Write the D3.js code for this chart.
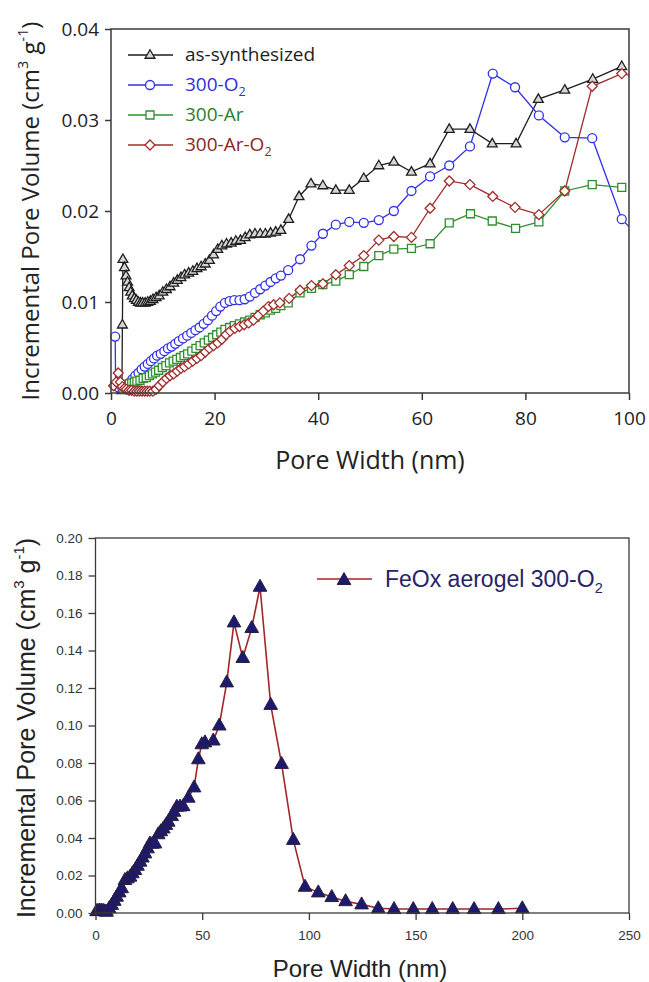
<!DOCTYPE html>
<html><head><meta charset="utf-8">
<script src="https://cdn.jsdelivr.net/npm/d3@7"></script>
<style>body{margin:0;background:#fff}svg{display:block}</style>
</head><body>
<svg id="c" width="649" height="982"></svg>
<script>
// ---------- DATA (top panel) ----------
const asSynthesized = [[2.1,0.0003],[2.2,0.0075],[2.3,0.0147],[2.6,0.0138],[2.9,0.0129],[3.2,0.0122],[3.5,0.0116],[3.8,0.0111],[4.1,0.0107],[4.5,0.0104],[4.9,0.0102],[5.3,0.0100],[5.7,0.0099],[6.1,0.0099],[6.6,0.0099],[7.1,0.0100],[7.6,0.0101],[8.1,0.0103],[8.7,0.0105],[9.3,0.0107],[10.0,0.0111],[10.7,0.0114],[11.4,0.0117],[12.1,0.0121],[12.8,0.0124],[13.5,0.0127],[14.2,0.0130],[15.0,0.0132],[15.8,0.0134],[16.6,0.0137],[17.4,0.0139],[18.2,0.0142],[19.0,0.0146],[19.8,0.0152],[20.6,0.0158],[21.4,0.0162],[22.3,0.0164],[23.2,0.0165],[24.1,0.0167],[25.0,0.0168],[25.9,0.0171],[26.8,0.0174],[27.8,0.0175],[28.8,0.0175],[29.8,0.0175],[30.8,0.0176],[31.8,0.0177],[32.8,0.0179],[34.3,0.0191],[36.3,0.0216],[38.6,0.0230],[40.9,0.0228],[43.4,0.0223],[46.0,0.0223],[48.8,0.0236],[51.7,0.0250],[54.6,0.0254],[58.0,0.0243],[61.6,0.0252],[65.3,0.0290],[69.3,0.0290],[73.6,0.0274],[78.2,0.0274],[82.5,0.0323],[87.6,0.0333],[93.0,0.0345],[98.6,0.0359]];
const o2_300 = [[0.8,0.0062],[0.9,0.0008],[1.5,0.0006],[2.2,0.0005],[2.9,0.0007],[3.5,0.0011],[4.1,0.0015],[4.7,0.0019],[5.3,0.0022],[5.9,0.0026],[6.5,0.0029],[7.1,0.0032],[7.7,0.0035],[8.3,0.0038],[8.9,0.0041],[9.6,0.0043],[10.3,0.0046],[11.0,0.0049],[11.7,0.0051],[12.4,0.0054],[13.1,0.0057],[13.9,0.0060],[14.7,0.0063],[15.5,0.0066],[16.3,0.0069],[17.1,0.0072],[17.9,0.0076],[18.7,0.0080],[19.5,0.0085],[20.3,0.0090],[21.1,0.0095],[22.0,0.0099],[22.9,0.0101],[23.8,0.0102],[24.8,0.0102],[25.8,0.0103],[26.8,0.0106],[27.8,0.0110],[28.8,0.0114],[29.8,0.0118],[30.8,0.0122],[31.8,0.0126],[32.8,0.0129],[34.2,0.0135],[36.5,0.0147],[38.7,0.0162],[40.9,0.0175],[43.4,0.0185],[46.0,0.0188],[48.8,0.0187],[51.7,0.0190],[54.6,0.0200],[58.0,0.0222],[61.6,0.0238],[65.3,0.0250],[69.3,0.0271],[73.7,0.0351],[78.0,0.0336],[82.6,0.0305],[87.6,0.0281],[92.9,0.0280],[98.6,0.0191],[101.0,0.0177]];
const ar_300 = [[2.5,0.0004],[3.0,0.0008],[3.5,0.0010],[4.0,0.0011],[4.5,0.0012],[5.0,0.0013],[5.6,0.0014],[6.2,0.0016],[6.8,0.0017],[7.4,0.0019],[8.0,0.0021],[8.6,0.0023],[9.2,0.0025],[9.9,0.0028],[10.6,0.0030],[11.3,0.0033],[12.0,0.0035],[12.7,0.0037],[13.4,0.0039],[14.1,0.0041],[14.8,0.0043],[15.6,0.0046],[16.4,0.0049],[17.2,0.0052],[18.0,0.0055],[18.8,0.0058],[19.6,0.0061],[20.4,0.0064],[21.2,0.0067],[22.0,0.0070],[22.9,0.0072],[23.8,0.0074],[24.8,0.0076],[25.8,0.0078],[26.8,0.0080],[27.8,0.0083],[28.8,0.0086],[29.8,0.0088],[30.8,0.0091],[31.8,0.0093],[32.8,0.0096],[34.2,0.0099],[36.5,0.0110],[38.7,0.0115],[40.9,0.0119],[43.4,0.0123],[46.0,0.0130],[48.8,0.0139],[51.7,0.0151],[54.6,0.0158],[58.0,0.0159],[61.6,0.0164],[65.3,0.0187],[69.4,0.0197],[73.6,0.0189],[78.1,0.0181],[82.6,0.0188],[87.6,0.0222],[92.9,0.0229],[98.6,0.0226]];
const arO2_300 = [[0.5,0.0008],[1.0,0.0012],[1.4,0.0022],[1.8,0.0012],[2.2,0.0007],[2.6,0.0005],[3.0,0.0004],[3.5,0.0003],[4.0,0.0003],[4.5,0.0002],[5.0,0.0002],[5.5,0.0002],[6.0,0.0002],[6.5,0.0002],[7.0,0.0002],[7.5,0.0002],[8.1,0.0002],[8.7,0.0004],[9.3,0.0008],[10.0,0.0012],[10.7,0.0016],[11.4,0.0019],[12.1,0.0021],[12.8,0.0024],[13.5,0.0027],[14.2,0.0029],[15.0,0.0032],[15.8,0.0035],[16.6,0.0038],[17.4,0.0041],[18.2,0.0045],[19.0,0.0049],[19.8,0.0052],[20.6,0.0055],[21.4,0.0059],[22.2,0.0064],[23.0,0.0068],[23.9,0.0071],[24.8,0.0073],[25.7,0.0075],[26.6,0.0077],[27.5,0.0080],[28.4,0.0085],[29.4,0.0090],[30.4,0.0095],[31.4,0.0097],[32.6,0.0099],[34.4,0.0104],[36.5,0.0113],[38.7,0.0118],[40.9,0.0120],[43.4,0.0130],[46.0,0.0140],[48.8,0.0151],[51.7,0.0168],[54.6,0.0172],[58.0,0.0171],[61.6,0.0203],[65.3,0.0233],[69.3,0.0229],[73.7,0.0216],[78.0,0.0204],[82.6,0.0196],[87.6,0.0222],[92.9,0.0337],[98.6,0.0351],[101.0,0.0348]];
const topSeriesNames = ["as-synthesized","300-O","300-Ar","300-Ar-O"];
const topXTicks = [0,20,40,60,80,100];
const topYTicks = [0,0.01,0.02,0.03,0.04];

// ---------- DATA (bottom panel) ----------
const feoxAerogel = [[0.5,0.0010],[1.2,0.0012],[2.0,0.0013],[2.8,0.0013],[3.6,0.0012],[4.4,0.0009],[5.2,0.0007],[6.4,0.0025],[7.6,0.0043],[8.8,0.0065],[9.9,0.0087],[11.1,0.0110],[12.3,0.0132],[13.8,0.0176],[15.0,0.0185],[16.2,0.0194],[17.3,0.0212],[18.5,0.0229],[19.7,0.0252],[20.9,0.0274],[22.0,0.0296],[23.2,0.0318],[24.4,0.0345],[25.5,0.0371],[26.7,0.0370],[27.9,0.0371],[29.4,0.0420],[30.6,0.0436],[31.8,0.0451],[33.0,0.0470],[34.1,0.0487],[35.7,0.0517],[36.8,0.0540],[38.1,0.0567],[39.6,0.0568],[41.1,0.0570],[43.5,0.0615],[46.2,0.0670],[48.2,0.0820],[49.8,0.0900],[51.3,0.0910],[55.2,0.0920],[58.0,0.1000],[61.5,0.1230],[64.9,0.1550],[69.0,0.1360],[73.2,0.1520],[77.1,0.1740],[82.1,0.1110],[87.2,0.0795],[92.7,0.0390],[98.2,0.0140],[104.4,0.0110],[110.7,0.0085],[117.2,0.0063],[124.7,0.0046],[132.5,0.0025],[139.9,0.0021],[148.9,0.0021],[157.8,0.0021],[167.4,0.0021],[177.4,0.0021],[188.8,0.0021],[200.0,0.0025]];
const botXTicks = [0,50,100,150,200,250];
const botYTicks = [0,0.02,0.04,0.06,0.08,0.10,0.12,0.14,0.16,0.18,0.20];

// ---------- DRAW ----------
const svg = d3.select("#c");
const mk = {
  tri: s => `M0,${-s*0.62}L${s*0.58},${s*0.38}L${-s*0.58},${s*0.38}Z`,
  circ: s => d3.symbol(d3.symbolCircle, Math.PI*s*s/4)(),
  sq: s => `M${-s/2},${-s/2}h${s}v${s}h${-s}Z`,
  dia: s => `M0,${-s/2}L${s/2},0L0,${s/2}L${-s/2},0Z`
};

// ===== TOP PANEL =====
const T = {l:111, r:629, t:29, b:393};
const FT = "'Open Sans', 'DejaVu Sans', sans-serif";
const xT = d3.scaleLinear().domain([0,100]).range([T.l,T.r]);
const yT = d3.scaleLinear().domain([0,0.04]).range([T.b,T.t]);
const gT = svg.append("g");
svg.append("clipPath").attr("id","clipT").append("rect").attr("x",T.l).attr("y",T.t).attr("width",T.r-T.l).attr("height",T.b-T.t);

const topSeries = [
  {data: asSynthesized, color:"#1e1e1e", text:"#1e1e1e", m:"tri", s:8.5, fill:"#d6d6d6"},
  {data: o2_300, color:"#3030e8", text:"#3030d8", m:"circ", s:9, fill:"#fff"},
  {data: ar_300, color:"#2e8f2e", text:"#2e7d2e", m:"sq", s:8, fill:"#fff"},
  {data: arO2_300, color:"#a02c2c", text:"#8e2424", m:"dia", s:10, fill:"#fff"}
];
const lineT = d3.line().x(d=>xT(d[0])).y(d=>yT(d[1]));
const plotT = gT.append("g").attr("clip-path","url(#clipT)");
topSeries.forEach(s=>{
  plotT.append("path").attr("d",lineT(s.data)).attr("fill","none").attr("stroke",s.color).attr("stroke-width",1.3);
});
topSeries.forEach(s=>{
  gT.append("g").selectAll("path").data(s.data.filter(d=>d[0]<=100)).join("path")
    .attr("transform",d=>`translate(${xT(d[0])},${yT(d[1])})`)
    .attr("d",mk[s.m](s.s)).attr("fill",s.fill).attr("stroke",s.color).attr("stroke-width",1.3);
});

// frame
gT.append("rect").attr("x",T.l).attr("y",T.t).attr("width",T.r-T.l).attr("height",T.b-T.t)
  .attr("fill","none").attr("stroke","#3a3a3a").attr("stroke-width",1.5);
const axBT = gT.append("g").attr("transform",`translate(0,${T.b})`)
  .call(d3.axisBottom(xT).tickValues(topXTicks).tickSize(7).tickSizeOuter(0).tickPadding(12).tickFormat(d3.format("d")));
const axLT = gT.append("g").attr("transform",`translate(${T.l},0)`)
  .call(d3.axisLeft(yT).tickValues(topYTicks).tickSize(6).tickSizeOuter(0).tickPadding(6).tickFormat(d3.format(".2f")));
[axBT,axLT].forEach(a=>{
  a.select(".domain").remove();
  a.selectAll("line").attr("stroke","#3a3a3a").attr("stroke-width",1.5);
  a.selectAll("text").attr("font-family",FT).attr("font-size",19).attr("fill","#222");
});

// titles
gT.append("text").attr("x",370).attr("y",469).attr("text-anchor","middle")
  .attr("font-family",FT).attr("font-size",25).attr("fill","#222").text("Pore Width (nm)");
function yTitle(g, x, y, font, size){
  const t = g.append("text").attr("transform",`translate(${x},${y}) rotate(-90)`).attr("text-anchor","middle")
    .attr("font-family",font).attr("font-size",size).attr("fill","#222");
  t.append("tspan").text("Incremental Pore Volume (cm");
  t.append("tspan").attr("dy",-size*0.45).attr("font-size",size*0.6).text("3");
  t.append("tspan").attr("dy",size*0.45).text(" g");
  t.append("tspan").attr("dy",-size*0.45).attr("font-size",size*0.6).text("-1");
  t.append("tspan").attr("dy",size*0.45).text(")");
}
yTitle(gT, 39, 211, FT, 24);

// legend
const legT = gT.append("g");
topSeries.forEach((s,i)=>{
  const y = 55 + i*30;
  legT.append("line").attr("x1",128).attr("x2",173).attr("y1",y).attr("y2",y).attr("stroke",s.color).attr("stroke-width",1.3);
  legT.append("path").attr("transform",`translate(150,${y})`).attr("d",mk[s.m](s.s)).attr("fill",s.fill).attr("stroke",s.color).attr("stroke-width",1.3);
  const t = legT.append("text").attr("x",185).attr("y",y+6).attr("font-family",FT).attr("font-size",19).attr("fill",s.text);
  t.append("tspan").text(topSeriesNames[i]);
  if(i===1||i===3) t.append("tspan").attr("dy",5).attr("font-size",12.5).text("2");
});

// ===== BOTTOM PANEL =====
const B = {l:95.5, r:629, t:538, b:913};
const FB = "'Liberation Sans', Arial, sans-serif";
const xB = d3.scaleLinear().domain([0,250]).range([B.l,B.r]);
const yB = d3.scaleLinear().domain([0,0.2]).range([B.b,B.t]);
const gB = svg.append("g");
const lineB = d3.line().x(d=>xB(d[0])).y(d=>yB(d[1]));
gB.append("path").attr("d",lineB(feoxAerogel)).attr("fill","none").attr("stroke","#a3262a").attr("stroke-width",1.6);
const triB = `M0,-7.5L6.8,4.5L-6.8,4.5Z`;
gB.append("g").selectAll("path").data(feoxAerogel).join("path")
  .attr("transform",d=>`translate(${xB(d[0])},${yB(d[1])})`)
  .attr("d",triB).attr("fill","#1c1a6e").attr("stroke","#2a1d40").attr("stroke-width",1);
gB.append("rect").attr("x",B.l).attr("y",B.t).attr("width",B.r-B.l).attr("height",B.b-B.t)
  .attr("fill","none").attr("stroke","#3a3a3a").attr("stroke-width",1.3);
const axBB = gB.append("g").attr("transform",`translate(0,${B.b})`)
  .call(d3.axisBottom(xB).tickValues(botXTicks).tickSize(7).tickSizeOuter(0).tickPadding(10).tickFormat(d3.format("d")));
const axLB = gB.append("g").attr("transform",`translate(${B.l},0)`)
  .call(d3.axisLeft(yB).tickValues(botYTicks).tickSize(7).tickSizeOuter(0).tickPadding(6).tickFormat(d3.format(".2f")));
[axBB,axLB].forEach(a=>{
  a.select(".domain").remove();
  a.selectAll("line").attr("stroke","#3a3a3a").attr("stroke-width",1.3);
  a.selectAll("text").attr("font-family",FB).attr("font-size",13.5).attr("fill","#333");
});
gB.append("text").attr("x",360).attr("y",977).attr("text-anchor","middle")
  .attr("font-family",FB).attr("font-size",24).attr("fill","#222").text("Pore Width (nm)");
yTitle(gB, 35, 728, FB, 25);

// legend bottom
gB.append("line").attr("x1",317).attr("x2",372).attr("y1",579).attr("y2",579).attr("stroke","#a3262a").attr("stroke-width",1.6);
gB.append("path").attr("transform","translate(344,580)").attr("d",triB).attr("fill","#1c1a6e").attr("stroke","#2a1d40");
const tB = gB.append("text").attr("x",385).attr("y",587).attr("font-family",FB).attr("font-size",23).attr("fill","#26246a");
tB.append("tspan").text("FeOx aerogel 300-O");
tB.append("tspan").attr("dy",6).attr("font-size",14.5).text("2");
</script>
</body></html>
